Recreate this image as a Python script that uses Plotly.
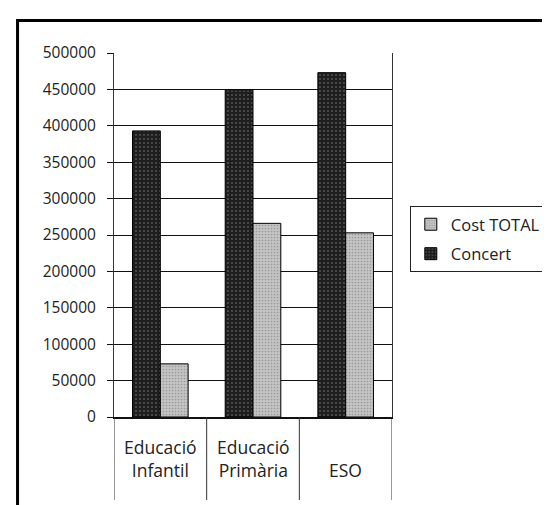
import plotly.graph_objects as go

categories = ["Educació<br>Infantil", "Educació<br>Primària", "ESO"]
concert = [393000, 449000, 473000]
cost_total = [73000, 266000, 253000]
y_ticks = [0, 50000, 100000, 150000, 200000, 250000, 300000, 350000, 400000, 450000, 500000]

FONT = "Open Sans"
W, H = 550, 505
L, R, T, B = 106, 387, 45, 409  # plot area pixel bounds

def px_x(p):
    return (p - L) / (R - L)

def px_y(p):
    return (B - p) / (B - T)

fig = go.Figure()
fig.add_trace(go.Bar(
    name="Concert", x=categories, y=concert, legendgroup="b", legendrank=2,
    marker=dict(color="#1e1e1e", line=dict(color="#000", width=1),
                pattern=dict(shape=".", fgcolor="#8a8a8a", bgcolor="#1e1e1e",
                             size=4, solidity=0.2)),
))
fig.add_trace(go.Bar(
    name="Cost TOTAL", x=categories, y=cost_total, legendgroup="a", legendrank=1,
    marker=dict(color="#b4b4b4", line=dict(color="#000", width=1),
                pattern=dict(shape=".", fgcolor="#707070", bgcolor="#c4c4c4",
                             size=3, solidity=0.25)),
))

shapes = []
# outer frame
shapes.append(dict(type="rect", xref="paper", yref="paper",
                   x0=px_x(8.5), x1=px_x(560), y0=px_y(515), y1=px_y(12.5),
                   line=dict(color="#000", width=3), fillcolor="rgba(0,0,0,0)", layer="above"))
# category divider lines below the axis
n = len(categories)
for i in range(n + 1):
    shapes.append(dict(type="line", xref="x", yref="paper",
                       x0=i - 0.5, x1=i - 0.5, y0=0, y1=px_y(492),
                       line=dict(color="#333", width=1)))

annotations = []
for c in categories:
    annotations.append(dict(xref="x", yref="paper", x=c, y=px_y(476),
                            xanchor="center", yanchor="bottom", showarrow=False,
                            text=c, align="center",
                            font=dict(family=FONT, size=17.5, color="#222")))

fig.update_layout(
    width=W, height=H,
    margin=dict(l=L, r=W - R, t=T, b=H - B, pad=0),
    paper_bgcolor="white", plot_bgcolor="white",
    barmode="group", bargap=0.40, bargroupgap=0,
    font=dict(family=FONT, color="#222"),
    showlegend=True,
    legend=dict(traceorder="grouped", x=px_x(405), y=px_y(198),
                xanchor="left", yanchor="top",
                bordercolor="#222", borderwidth=1, bgcolor="white",
                font=dict(family=FONT, size=16.5, color="#222"),
                itemwidth=30, tracegroupgap=5),
    shapes=shapes,
    annotations=annotations,
)
fig.update_xaxes(showticklabels=False, showgrid=False, ticks="",
                 showline=True, linecolor="#111", linewidth=1.5, mirror=False,
                 range=[-0.5, n - 0.5])
fig.update_yaxes(range=[0, 500000], tickvals=y_ticks,
                 ticktext=[str(v) for v in y_ticks],
                 showgrid=True, gridcolor="#111", gridwidth=1,
                 showline=True, linecolor="#333", linewidth=1, mirror=True,
                 ticks="outside", ticklen=6, tickcolor="#111",
                 ticklabelstandoff=8,
                 tickfont=dict(family=FONT, size=15.5, color="#222"),
                 zeroline=False)

fig.write_html("out.html")
